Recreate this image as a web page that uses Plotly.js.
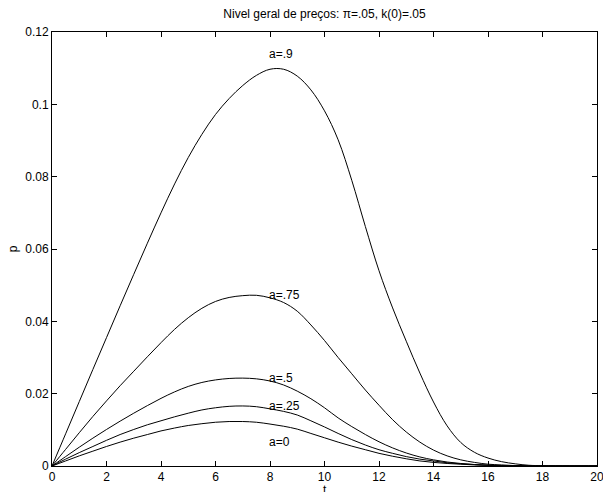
<!DOCTYPE html>
<html>
<head>
<meta charset="utf-8">
<script src="https://cdn.plot.ly/plotly-3.0.1.min.js"></script>
<style>html,body{margin:0;padding:0;background:#fff;}#chart{width:603px;height:492px;}</style>
</head>
<body>
<div id="chart"></div>
<script>
// time grid
const t = [0,0.5,1,1.5,2,2.5,3,3.5,4,4.5,5,5.5,6,6.5,7,7.5,8,8.5,9,9.5,10,10.5,11,11.5,12,12.5,13,13.5,14,14.5,15,15.5,16,16.5,17,17.5,18,19,20];

// series values (p)
const p_a90 = [0,0.0089,0.0178,0.0267,0.0355,0.0443,0.0530,0.0616,0.0700,0.0780,0.0853,0.0917,0.0972,0.1016,0.1052,0.1080,0.1097,0.1097,0.1078,0.1040,0.0982,0.0902,0.0790,0.0662,0.0540,0.0437,0.0345,0.0257,0.0177,0.0111,0.0065,0.0038,0.0022,0.0012,0.0006,0.0002,0.0001,0,0];
const p_a75 = [0,0.0046,0.0092,0.0137,0.0180,0.0222,0.0262,0.0302,0.0341,0.0378,0.0410,0.0436,0.0455,0.0466,0.0471,0.0472,0.0465,0.0452,0.0428,0.0390,0.0347,0.0300,0.0255,0.0210,0.0168,0.0128,0.0094,0.0066,0.0044,0.0028,0.0017,0.0010,0.0005,0.0003,0.0001,0,0,0,0];
const p_a50 = [0,0.0026,0.0052,0.0077,0.0101,0.0124,0.0146,0.0167,0.0187,0.0205,0.0220,0.0231,0.0238,0.0242,0.0243,0.0241,0.0235,0.0224,0.0207,0.0186,0.0161,0.0133,0.0109,0.0087,0.0067,0.0050,0.0036,0.0025,0.0017,0.0011,0.0007,0.0004,0.0002,0.0001,0.0001,0,0,0,0];
const p_a25 = [0,0.0019,0.0037,0.0054,0.0071,0.0087,0.0101,0.0114,0.0125,0.0136,0.0146,0.0155,0.0161,0.0165,0.0166,0.0164,0.0158,0.0151,0.0141,0.0125,0.0108,0.0090,0.0073,0.0058,0.0045,0.0035,0.0026,0.0019,0.0014,0.0009,0.0006,0.0004,0.0002,0.0001,0.0001,0,0,0,0];
const p_a00 = [0,0.0014,0.0028,0.0041,0.0054,0.0066,0.0077,0.0087,0.0097,0.0105,0.0112,0.0117,0.0121,0.0123,0.0123,0.0121,0.0116,0.0110,0.0102,0.0090,0.0078,0.0066,0.0055,0.0045,0.0035,0.0027,0.0020,0.0014,0.0010,0.0007,0.0005,0.0003,0.0002,0.0001,0.0001,0,0,0,0];

const seriesNames = ["a=.9","a=.75","a=.5","a=.25","a=0"];
const seriesValues = [p_a90,p_a75,p_a50,p_a25,p_a00];

// curve labels (position in data units)
const labelText = ["a=.9","a=.75","a=.5","a=.25","a=0"];
const labelT = [7.9,7.9,7.9,7.9,7.9];
const labelP = [0.1140,0.0474,0.0242,0.0166,0.0065];

const xTicks = [0,2,4,6,8,10,12,14,16,18,20];
const yTicks = [0,0.02,0.04,0.06,0.08,0.1,0.12];

const FONT = "Liberation Sans, Arial, Helvetica, sans-serif";
const FS = 12;

const traces = seriesValues.map((v,i)=>({
  x: t, y: v, type: "scatter", mode: "lines", name: seriesNames[i],
  line: {color: "#000", width: 1, shape: "spline", smoothing: 1},
  hoverinfo: "skip"
}));

const annotations = labelText.map((s,i)=>({
  x: labelT[i], y: labelP[i], xref: "x", yref: "y", text: s,
  showarrow: false, xanchor: "left", yanchor: "middle",
  font: {family: FONT, size: FS, color: "#000"}
}));
// x-axis title "t" (sits at the bottom edge, as in the reference)
annotations.push({
  x: 0.5, y: 0, xref: "paper", yref: "paper", yshift: -24, text: "t",
  showarrow: false, xanchor: "center", yanchor: "middle",
  font: {family: FONT, size: FS, color: "#000"}
});

const axisCommon = {
  showgrid: false, zeroline: false, showline: true, linecolor: "#000", linewidth: 1,
  mirror: "ticks", ticks: "inside", ticklen: 5, tickwidth: 1, tickcolor: "#000",
  ticklabeloverflow: "allow",
  tickfont: {family: FONT, size: FS, color: "#000"}
};

const layout = {
  width: 603, height: 492,
  margin: {l: 52, r: 6, t: 32, b: 26, pad: 0},
  paper_bgcolor: "#fff", plot_bgcolor: "#fff",
  showlegend: false,
  font: {family: FONT, size: FS, color: "#000"},
  title: {text: "Nivel geral de preços: π=.05, k(0)=.05", font: {family: FONT, size: FS, color: "#000"},
          x: 0.5, xref: "paper", y: 1 - 14/492, yref: "container", yanchor: "middle", xanchor: "center"},
  xaxis: Object.assign({}, axisCommon, {range: [0,20], tickvals: xTicks, ticktext: xTicks.map(String)}),
  yaxis: Object.assign({}, axisCommon, {range: [0,0.12], tickvals: yTicks, ticktext: yTicks.map(String),
          title: {text: "p", font: {family: FONT, size: FS, color: "#000"}, standoff: 5}}),
  annotations: annotations
};

Plotly.newPlot("chart", traces, layout, {staticPlot: true, displayModeBar: false});
</script>
</body>
</html>
